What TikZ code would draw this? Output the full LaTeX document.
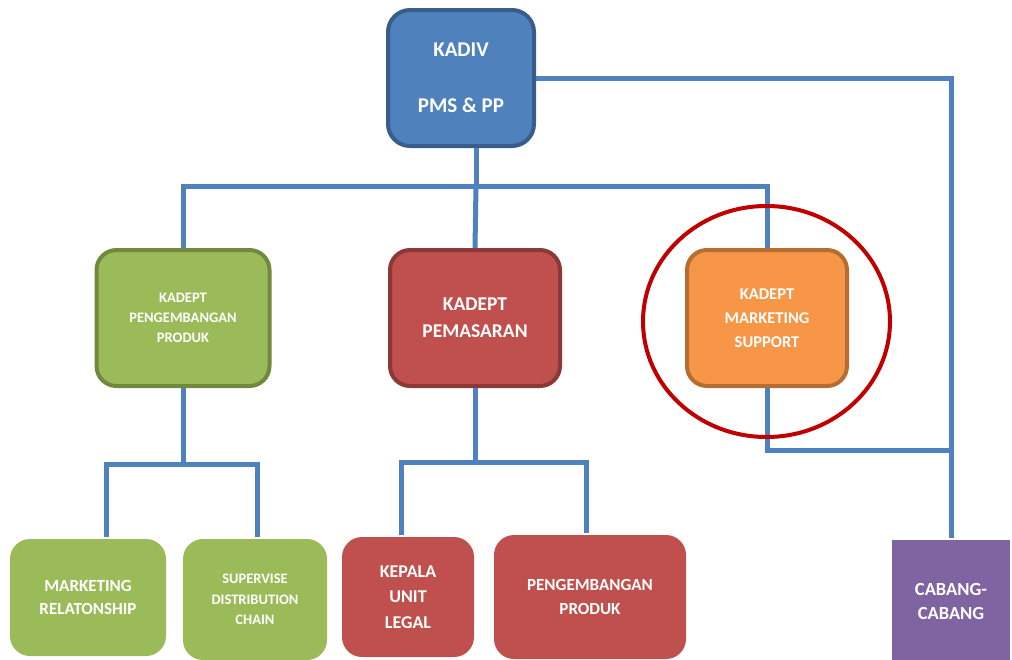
\documentclass[tikz,border=0pt]{standalone}
\usepackage{fontspec}
\setmainfont{Carlito}
\definecolor{linkblue}{HTML}{4F81BD}
\definecolor{blueFill}{HTML}{4F81BD}
\definecolor{blueEdge}{HTML}{385D8A}
\definecolor{greenFill}{HTML}{9BBB59}
\definecolor{greenEdge}{HTML}{71893F}
\definecolor{redFill}{HTML}{C0504D}
\definecolor{redEdge}{HTML}{8C3836}
\definecolor{orangeFill}{HTML}{F79646}
\definecolor{orangeEdge}{HTML}{B66D31}
\definecolor{purpleFill}{HTML}{8064A2}
\definecolor{ringRed}{HTML}{C00000}
\begin{document}
\begin{tikzpicture}[x=1pt,y=-1pt,
  box/.style={rounded corners=20pt, text=white, align=center, inner sep=0pt, line width=4pt},
  link/.style={line width=5pt, draw=linkblue},
  fs/.style 2 args={font=\fontsize{#1}{#2}\selectfont\bfseries}]
\useasboundingbox (0,0) rectangle (1012,659);
\clip (0,0) rectangle (1012,659);

% junction points of the connector buses
\coordinate (tb) at (476,186);
\coordinate (gl) at (106,464);
\coordinate (gr) at (257,464);
\coordinate (rl) at (401,462);
\coordinate (rr) at (586,462);
\coordinate (jn) at (951,450);

% top level
\node[box, rounded corners=22pt, fill=blueFill, draw=blueEdge, minimum width=146pt, minimum height=136pt, fs={21}{56}]
  (kadiv) at (461,78) {KADIV\\PMS \& PP};

% department heads
\node[box, fill=greenFill, draw=greenEdge, minimum width=173pt, minimum height=136pt, fs={14.5}{20}]
  (kpp) at (183,318) {KADEPT\\PENGEMBANGAN\\PRODUK};
\node[box, fill=redFill, draw=redEdge, minimum width=170pt, minimum height=136pt, fs={19.5}{27}]
  (kp) at (475,318) {KADEPT\\PEMASARAN};
\node[box, fill=orangeFill, draw=orangeEdge, minimum width=160pt, minimum height=136pt, fs={16.5}{24}]
  (kms) at (767,318) {KADEPT\\MARKETING\\SUPPORT};

% units
\node[box, fill=greenFill, minimum width=156pt, minimum height=117pt, fs={17}{23}]
  (mr) at (88,597.5) {MARKETING\\RELATONSHIP};
\node[box, fill=greenFill, minimum width=144pt, minimum height=121pt, fs={14.5}{20.5}]
  (sd) at (255,599.5) {SUPERVISE\\DISTRIBUTION\\CHAIN};
\node[box, fill=redFill, minimum width=132pt, minimum height=120pt, fs={18}{25.5}]
  (kul) at (408,597) {KEPALA\\UNIT\\LEGAL};
\node[box, fill=redFill, minimum width=192pt, minimum height=124pt, fs={17}{24.5}]
  (pp) at (590,597) {PENGEMBANGAN\\PRODUK};
\node[box, rounded corners=0pt, fill=purpleFill, minimum width=118pt, minimum height=123pt, fs={18.5}{24}]
  (cab) at (951,601.5) {CABANG-\\CABANG};

% connectors
\draw[link] (kadiv.east) -| (cab.north);
\draw[link] (tb |- kadiv.south) -- (tb);
\draw[link] (kpp.north) |- (tb) -| (kms.north);
\draw[link] (kp.north) -- (tb);
\draw[link] (kms.south) |- (jn);
\draw[link] (kpp.south) -- (kpp.south |- gl);
\draw[link] (gl |- mr.north) -- (gl) -- (gr) -- (gr |- sd.north);
\draw[link] (kp.south) -- (kp.south |- rl);
\draw[link] (rl |- kul.north) -- (rl) -- (rr) -- (rr |- pp.north);

% highlight ring
\draw[ringRed, line width=4pt] (766.5,321.5) ellipse [x radius=123.5pt, y radius=115.5pt];
\end{tikzpicture}
\end{document}
